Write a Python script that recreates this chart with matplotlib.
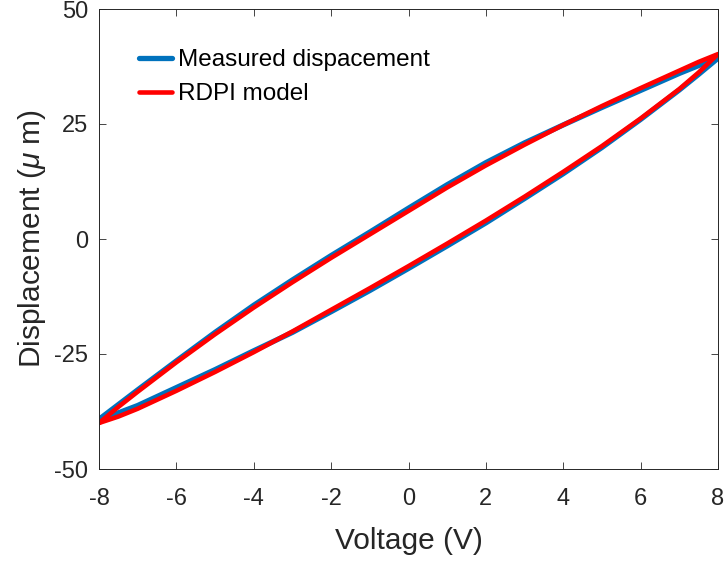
import numpy as np
import matplotlib
matplotlib.use("Agg")
import matplotlib.pyplot as plt

plt.rcParams['font.family'] = ['Liberation Sans', 'DejaVu Sans']
plt.rcParams['axes.unicode_minus'] = False
plt.rcParams['mathtext.fontset'] = 'custom'
plt.rcParams['mathtext.it'] = 'Liberation Sans:italic'
plt.rcParams['mathtext.rm'] = 'Liberation Sans'

#%% data (voltage in V, displacement in um)
# loop: ascending branch from -8 to 8, then descending branch back to -8
volt_up = [-8, -7.5, -7, -6, -5, -4, -3, -2, -1, 0, 1, 2, 3, 4, 5, 6, 7, 7.5, 8]
volt_down = [8, 7.5, 7, 6, 5, 4, 3, 2, 1, 0, -1, -2, -3, -4, -5, -6, -7, -7.5, -8]

measured_up = [-39.2, -37.8, -36.2, -32.3, -28.4, -24.3, -20.3, -15.8, -11.2, -6.4,
               -1.5, 3.5, 8.8, 14.2, 19.9, 26.0, 32.4, 35.8, 39.3]
measured_down = [39.3, 37.7, 36.0, 32.3, 28.6, 24.8, 20.9, 16.6, 11.8, 6.7,
                 1.5, -3.6, -8.9, -14.4, -20.3, -26.5, -32.8, -36.0, -39.2]

model_up = [-40.0, -38.6, -36.9, -33.0, -28.9, -24.6, -20.1, -15.4, -10.7, -5.9,
            -1.0, 4.0, 9.2, 14.6, 20.2, 26.2, 32.6, 36.2, 40.2]
model_down = [40.2, 38.5, 36.6, 32.8, 28.9, 24.8, 20.5, 16.0, 11.2, 6.1,
              1.0, -4.1, -9.4, -14.9, -20.7, -26.8, -33.2, -36.5, -40.0]

x_ticks = [-8, -6, -4, -2, 0, 2, 4, 6, 8]
y_ticks = [-50, -25, 0, 25, 50]

#%% plot
fig = plt.figure(figsize=(7.25, 5.61), dpi=100)
ax = fig.add_axes([99/725, 92/561, 619/725, 460/561])

ax.plot(volt_up + volt_down, measured_up + measured_down, color='#0072BD', lw=3.8,
        solid_joinstyle='round', solid_capstyle='round', label='Measured dispacement')
ax.plot(volt_up + volt_down, model_up + model_down, color='#FF0000', lw=3.3,
        solid_joinstyle='round', solid_capstyle='round', label='RDPI model')

ax.set_xlim(-8, 8)
ax.set_ylim(-50, 50)
ax.set_xticks(x_ticks)
ax.set_yticks(y_ticks)
ax.tick_params(direction='in', length=5, width=0.6, colors='#262626',
               labelsize=17, top=True, right=True)
ax.tick_params(axis='x', pad=14)
ax.tick_params(axis='y', pad=8)
for s in ax.spines.values():
    s.set_color('#262626')
    s.set_linewidth(0.7)

ax.set_xlabel('Voltage (V)', fontsize=21.5, color='#262626', labelpad=12)
ax.set_ylabel(r'Displacement ($\mu$ m)', fontsize=21.5, color='#262626', labelpad=4)

ax.legend(loc='upper left', frameon=False, fontsize=17.5, handlelength=1.35,
          handletextpad=0.25, labelspacing=0.5, bbox_to_anchor=(0.03, 0.96))

fig.savefig('out.png', dpi=100)
